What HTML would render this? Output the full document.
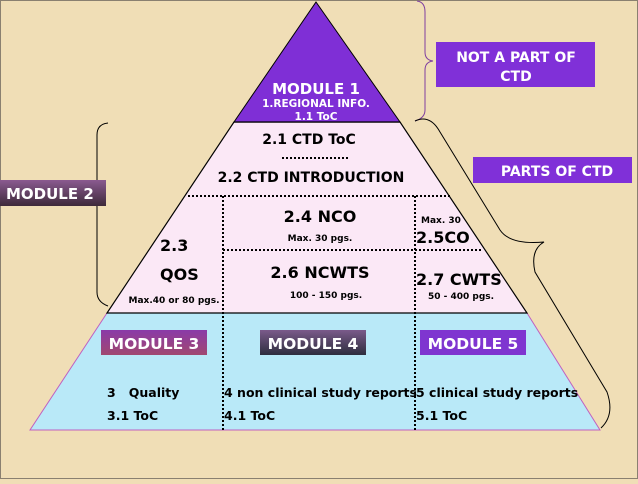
<!DOCTYPE html>
<html><head><meta charset="utf-8"><style>
html,body{margin:0;padding:0}
body{width:638px;height:479px;overflow:hidden;background:#f0deb6;font-family:"Liberation Sans","DejaVu Sans",sans-serif}
svg text{font-family:"DejaVu Sans","Liberation Sans",sans-serif;font-weight:bold}
</style></head><body>
<svg width="638" height="479" viewBox="0 0 638 479" xmlns="http://www.w3.org/2000/svg">
<defs>
<linearGradient id="g2" x1="0" y1="0" x2="0" y2="1"><stop offset="0" stop-color="#8a5a90"/><stop offset="1" stop-color="#3e2a3a"/></linearGradient>
<linearGradient id="g3" x1="0" y1="0" x2="0" y2="1"><stop offset="0" stop-color="#8a3aa8"/><stop offset="1" stop-color="#a04870"/></linearGradient>
<linearGradient id="g4" x1="0" y1="0" x2="0" y2="1"><stop offset="0" stop-color="#7a5a8a"/><stop offset="1" stop-color="#2e2e3e"/></linearGradient>
</defs>
<rect x="0.5" y="0.5" width="637" height="478" fill="none" stroke="#8a8070"/>
<polygon points="107,313 527,313 600,430 30,430" fill="#b9e9f8" stroke="#c060c0" stroke-width="1"/>
<polygon points="234,122 400,122 527,313 107,313" fill="#fbe8f6" stroke="#000" stroke-width="1.2"/>
<polygon points="316,2 400,122 234,122" fill="#7f2fd6" stroke="#000" stroke-width="1"/>
<g stroke="#000" stroke-width="2" stroke-dasharray="2,2" fill="none">
<line x1="188" y1="196" x2="452" y2="196"/>
<line x1="223" y1="196" x2="223" y2="430"/>
<line x1="415" y1="196" x2="415" y2="430"/>
<line x1="223" y1="250" x2="483" y2="250"/>
<line x1="282" y1="158" x2="350" y2="158"/>
</g>
<line x1="234" y1="122" x2="400" y2="122" stroke="#000" stroke-width="1.2"/>
<path d="M108,123 Q97,124 97,135 L97,185 Q97,196 86,196 Q97,196 97,207 L97,292 Q97,302 108,306" fill="none" stroke="#000" stroke-width="1"/>
<path d="M417,1 Q425,2 425,12 L425,52 Q425,60 433,61 Q425,62 425,70 L425,110 Q425,118 415,121" fill="none" stroke="#7f3fa0" stroke-width="1"/>
<path d="M415,121 Q430,114 440,132 L500,230 Q510,245 544,242 Q530,250 535,272 L607,392 Q615,415 601,428" fill="none" stroke="#000" stroke-width="1"/>
<rect x="0" y="180" width="106" height="26" fill="url(#g2)"/>
<text x="6" y="199" font-size="15" fill="#fff">MODULE 2</text>
<rect x="436" y="42" width="159" height="45" fill="#8030d8"/>
<text x="516" y="62" font-size="14" fill="#fff" text-anchor="middle">NOT A PART OF</text>
<text x="516" y="81" font-size="14" fill="#fff" text-anchor="middle">CTD</text>
<rect x="473" y="157" width="159" height="26" fill="#8030d8"/>
<text x="557" y="176" font-size="14" fill="#fff" text-anchor="middle">PARTS OF CTD</text>
<rect x="101" y="330" width="106" height="25" fill="url(#g3)"/>
<text x="154" y="349" font-size="15.5" fill="#fff" text-anchor="middle">MODULE 3</text>
<rect x="260" y="330" width="106" height="25" fill="url(#g4)"/>
<text x="313" y="349" font-size="15.5" fill="#fff" text-anchor="middle">MODULE 4</text>
<rect x="420" y="330" width="106" height="25" fill="#7f35d0"/>
<text x="473" y="349" font-size="15.5" fill="#fff" text-anchor="middle">MODULE 5</text>
<text x="316" y="94" font-size="15" fill="#fff" text-anchor="middle">MODULE 1</text>
<text x="316" y="107" font-size="10.5" fill="#fff" text-anchor="middle">1.REGIONAL INFO.</text>
<text x="316" y="120" font-size="10.5" fill="#fff" text-anchor="middle">1.1 ToC</text>
<text x="309" y="144" font-size="14" fill="#000" text-anchor="middle">2.1 CTD ToC</text>
<text x="311" y="182" font-size="14" fill="#000" text-anchor="middle">2.2 CTD INTRODUCTION</text>
<text x="320" y="222" font-size="16" fill="#000" text-anchor="middle">2.4 NCO</text>
<text x="320" y="241" font-size="9" fill="#000" text-anchor="middle">Max. 30  pgs.</text>
<text x="160" y="251" font-size="16" fill="#000">2.3</text>
<text x="160" y="280" font-size="16" fill="#000">QOS</text>
<text x="174" y="303" font-size="9" fill="#000" text-anchor="middle">Max.40 or 80 pgs.</text>
<text x="320" y="278" font-size="16" fill="#000" text-anchor="middle">2.6 NCWTS</text>
<text x="326" y="298" font-size="9" fill="#000" text-anchor="middle">100 - 150 pgs.</text>
<text x="421" y="223" font-size="9" fill="#000">Max. 30</text>
<text x="416" y="243" font-size="16" fill="#000">2.5CO</text>
<text x="416" y="285" font-size="16" fill="#000">2.7 CWTS</text>
<text x="461" y="299" font-size="9" fill="#000" text-anchor="middle">50 - 400 pgs.</text>
<text x="107" y="397" font-size="12.5" fill="#000" xml:space="preserve">3   Quality</text>
<text x="107" y="420" font-size="12.5" fill="#000">3.1 ToC</text>
<text x="224" y="397" font-size="12.5" fill="#000">4 non clinical study reports</text>
<text x="224" y="420" font-size="12.5" fill="#000">4.1 ToC</text>
<text x="416" y="397" font-size="12.5" fill="#000">5 clinical study reports</text>
<text x="416" y="420" font-size="12.5" fill="#000">5.1 ToC</text>
</svg>
</body></html>
